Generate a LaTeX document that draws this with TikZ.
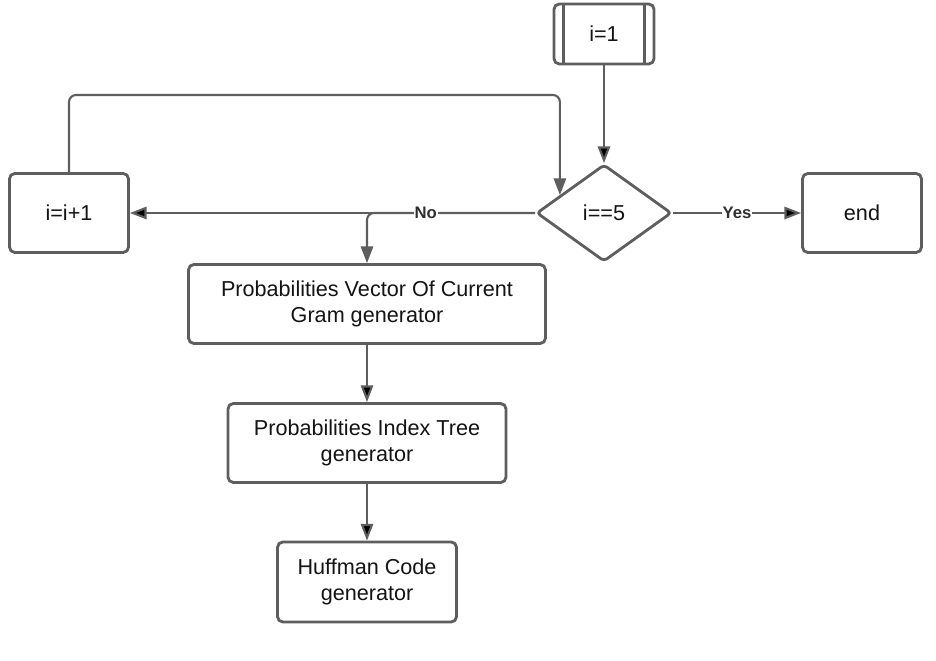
\documentclass[tikz,border=0pt]{standalone}
\usepackage{fontspec}
\setmainfont{Liberation Sans}
\usetikzlibrary{arrows.meta,shapes.geometric,calc}
\definecolor{edgegray}{RGB}{94,94,94}
\definecolor{textgray}{RGB}{20,20,20}
\tikzset{
  box/.style={draw=edgegray, line width=1.6pt, rounded corners=3pt, fill=white, align=center,
    inner sep=2pt, text=textgray, font=\fontsize{12.3}{14.6}\selectfont},
  decision/.style={draw=edgegray, line width=1.6pt, diamond, rounded corners=2pt, inner sep=0pt,
    text=textgray, font=\fontsize{12.3}{14.6}\selectfont},
  flow/.style={draw=edgegray, line width=1.2pt, -{Triangle[length=9.5pt,width=7pt]}},
  lbl/.style={fill=white, inner sep=0.6pt, text=edgegray!50!black,
    font=\bfseries\fontsize{9.5}{11}\selectfont},
}
\begin{document}
\begin{tikzpicture}[x=0.02cm, y=-0.02cm]
        \useasboundingbox (0,0) rectangle (936,661);

        \node[box, minimum width=2cm, minimum height=1.2cm] at (604, 34)(init){i=1};
        \draw[edgegray, line width=1.6pt]
        ([xshift=0.22cm]init.north west) -- ([xshift=0.22cm]init.south west)
        ([xshift=-0.22cm]init.north east) -- ([xshift=-0.22cm]init.south east);
        \node[decision, minimum width=2.7cm, minimum height=1.94cm] at (604, 213)(check){i==5};
        \node[box, minimum width=2.38cm, minimum height=1.58cm] at (69, 213)(incr){i=i+1};
        \node[box, minimum width=2.38cm, minimum height=1.58cm] at (862, 213)(finish){end};
        \node[box, minimum width=7.14cm, minimum height=1.58cm] at (367, 304)(vec){Probabilities Vector Of Current\\Gram generator};
        \node[box, minimum width=5.56cm, minimum height=1.58cm] at (367, 443)(tree){Probabilities Index Tree\\generator};
        \node[box, minimum width=3.58cm, minimum height=1.6cm] at (367, 582)(huff){Huffman Code\\generator};

        \coordinate (tip) at ($(check.west)!0.36!(check.north)$);
        \coordinate (top) at (0, 95);

        \draw[flow, rounded corners=4pt] (check.west) -| (vec.north);
        \path[flow]
        (init)edge(check)
        (check)edge node[lbl]{Yes}(finish)
        (check)edge node[lbl, pos=0.27]{No}(incr)
        (vec)edge(tree)
        (tree)edge(huff)
        ;
        \draw[flow, rounded corners=4pt] (incr.north) -- (incr.north |- top) -| (tip);
    \end{tikzpicture}
\end{document}
